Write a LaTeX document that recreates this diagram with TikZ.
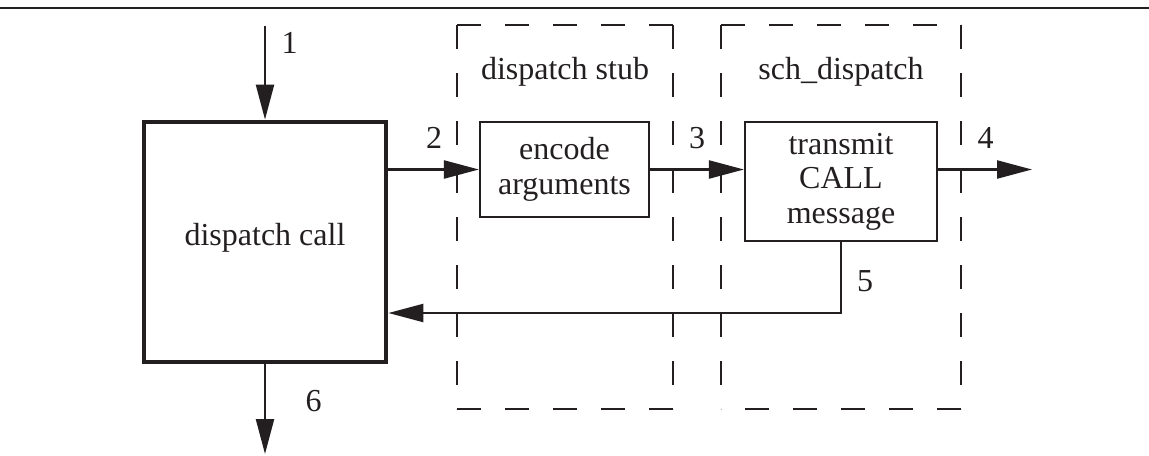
\documentclass[tikz,border=0pt]{standalone}
\usepackage{fontspec}
\setmainfont{Liberation Serif}
\usetikzlibrary{arrows.meta}
\definecolor{ink}{RGB}{35,31,32}
\begin{document}
\begin{tikzpicture}[x=0.5pt,y=-0.5pt,
  txt/.style={font=\fontsize{16}{17.25}\selectfont, text=ink},
  box/.style={draw=ink, line width=1.1pt, align=center, inner sep=0pt, txt},
  bigbox/.style={box, line width=2.4pt},
  region/.style={draw=none, inner sep=0pt, outer sep=0pt},
  dashside/.style={draw=ink, line width=1pt, dash pattern=on 12pt off 12pt},
  arr/.style={draw=ink, line width=1.15pt, -{Triangle[length=17.5pt,width=9pt]}},
  rulestyle/.style={draw=ink, line width=1.3pt},
  num/.style={txt, inner sep=0pt},
]
\useasboundingbox (0,0) rectangle (1149,455);

% top rule
\coordinate (ruleL) at (0,8);
\coordinate (ruleR) at (1149,8);
\draw[rulestyle] (ruleL) -- (ruleR);

% dashed regions
\node[region, minimum width=108pt, minimum height=192pt] (stub) at (565,217) {};
\node[region, minimum width=120pt, minimum height=192pt] (sch) at (841,217) {};
\foreach \r in {stub,sch} {
  \draw[dashside] (\r.north west) -- (\r.north east);
  \draw[dashside] (\r.north west) -- (\r.south west);
  \draw[dashside] (\r.north east) -- (\r.south east);
  \draw[dashside] (\r.south east) -- (\r.south west);
}
\node[txt, anchor=base] (stubtitle) at (565,79) {dispatch stub};
\node[txt, anchor=base] (schtitle) at (841,79) {sch\_dispatch};

% boxes
\node[bigbox, minimum width=121pt, minimum height=120pt, text depth=8pt] (dcall) at (265,242) {dispatch call};
\node[box, minimum width=84.5pt, minimum height=47.5pt] (encode) at (564.5,169.5) {encode\\arguments};
\node[box, minimum width=96pt, minimum height=59.5pt] (transmit) at (841,181.5) {transmit\\CALL\\message};

% connectors
\coordinate (in1) at (265,26);
\draw[arr] (in1) -- (dcall.north);
\draw[arr] (dcall.east |- encode.west) -- (encode.west);
\draw[arr] (encode.east) -- (transmit.west |- encode.east);
\coordinate (out4) at (1032,169.5);
\draw[arr] (transmit.east |- out4) -- (out4);
\coordinate (bend5) at (841,313);
\draw[arr] (transmit.south) -- (bend5) -- (dcall.east |- bend5);
\coordinate (out6) at (265,454);
\draw[arr] (dcall.south) -- (out6);

% labels
\node[num] (n1) at (289.5,42.5) {1};
\node[num] (n2) at (434,138) {2};
\node[num] (n3) at (697,138) {3};
\node[num] (n4) at (985.5,138) {4};
\node[num] (n5) at (865,281.5) {5};
\node[num] (n6) at (313.5,401.5) {6};
\end{tikzpicture}
\end{document}
